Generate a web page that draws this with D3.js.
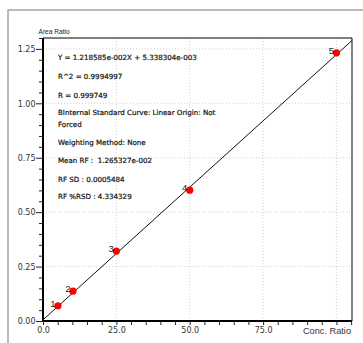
<!DOCTYPE html>
<html><head><meta charset="utf-8">
<script src="https://cdn.jsdelivr.net/npm/d3@7"></script>
<style>body{margin:0;background:#fff;}svg{display:block;}text{white-space:pre;}</style>
</head><body>
<svg id="c" width="363" height="343"></svg>
<script>
const levels = ["1","2","3","4","5"];
const concRatio = [5.1, 10.2, 25, 50, 100];
const areaRatio = [0.070, 0.137, 0.321, 0.601, 1.232];
const slope = 0.01218585, intercept = 0.005338304;
const xTickLabels = ["0.0","25.0","50.0","75.0"];
const yTickLabels = ["0.00","0.25","0.50","0.75","1.00","1.25"];
const notes = [
  "Y = 1.218585e-002X + 5.338304e-003",
  "R^2 = 0.9994997",
  "R = 0.999749",
  "BInternal Standard Curve: Linear Origin: Not",
  "Forced",
  "Weighting Method: None",
  "Mean RF :  1.265327e-002",
  "RF SD : 0.0005484",
  "RF %RSD : 4.334329"
];
const noteY = [60, 79, 98, 115, 127, 145, 163, 182, 199];

const svg = d3.select("#c");
const L=43, R=352, T=38, B=321;
const x = d3.scaleLinear().domain([0,105.3]).range([L,R]);
const y = d3.scaleLinear().domain([0,1.3]).range([B,T]);
const sans = "DejaVu Sans, Verdana, sans-serif";

// outer frame (top + left)
svg.append("path").attr("d","M8,343 V10 H363").attr("fill","none").attr("stroke","#aaa49a").attr("stroke-width",1.5);

// grid
const gx=[25,50,75,100], gy=[0.25,0.5,0.75,1.0,1.25];
svg.append("g").selectAll("line").data(gx).join("line")
  .attr("x1",d=>x(d)).attr("x2",d=>x(d)).attr("y1",T).attr("y2",B)
  .attr("stroke","#d0d0d0").attr("stroke-dasharray","1,2");
svg.append("g").selectAll("line").data(gy).join("line")
  .attr("y1",d=>y(d)).attr("y2",d=>y(d)).attr("x1",L).attr("x2",R)
  .attr("stroke","#d0d0d0").attr("stroke-dasharray","1,2");

// plot border top/right
svg.append("path").attr("d",`M${L},${T} H${R} V${B}`).attr("fill","none").attr("stroke","#000").attr("stroke-width",1);

// axes
const xAxis = d3.axisBottom(x).tickValues(d3.range(0,106,5)).tickSize(4)
  .tickFormat(d=> (d%25===0 && d<100) ? xTickLabels[d/25] : "");
const gX = svg.append("g").attr("transform",`translate(0,${B})`).call(xAxis);
gX.select(".domain").attr("stroke","#000").attr("stroke-width",2).attr("d",`M${L},0H${R}`);
gX.selectAll(".tick line").attr("stroke","#222");
gX.selectAll("text").attr("font-family",sans).attr("font-size",8).attr("fill","#333").attr("dy","0.6em");

const yAxis = d3.axisLeft(y).tickValues(d3.range(0,1.3001,0.05).map(v=>+v.toFixed(2))).tickSize(0)
  .tickFormat(d=>{const i=Math.round(d/0.25); return Math.abs(d-i*0.25)<1e-6 ? yTickLabels[i] : "";});
const gY = svg.append("g").attr("transform",`translate(${L},0)`).call(yAxis);
gY.select(".domain").attr("stroke","#000").attr("stroke-width",2).attr("d",`M0,${T}V${B}`);
gY.selectAll(".tick line").attr("stroke","#222")
  .attr("x2",d=>{const i=Math.round(d/0.25); return Math.abs(d-i*0.25)<1e-6 ? -7 : -4;});
gY.selectAll("text").attr("font-family",sans).attr("font-size",8).attr("fill","#333").attr("x",-7.5).attr("dy","0.35em");

// axis titles
svg.append("text").attr("x",38.5).attr("y",34).text("Area Ratio")
  .attr("font-family","Liberation Sans, Arial, sans-serif").attr("font-size",6.6).attr("fill","#222");
svg.append("text").attr("x",351).attr("y",334).attr("text-anchor","end").text("Conc. Ratio")
  .attr("font-family","Liberation Sans, Arial, sans-serif").attr("font-size",9.2).attr("fill","#333");

// fit line
const x0=0, x1=105.3;
svg.append("line").attr("x1",x(x0)).attr("y1",y(slope*x0+intercept)).attr("x2",x(x1)).attr("y2",y(slope*x1+intercept))
  .attr("stroke","#111").attr("stroke-width",1);

// points
const pts = concRatio.map((c,i)=>({c, a:areaRatio[i], l:levels[i]}));
svg.append("g").selectAll("circle").data(pts).join("circle")
  .attr("cx",d=>x(d.c)).attr("cy",d=>y(d.a)).attr("r",3.6).attr("fill","#ff0000");
svg.append("g").selectAll("text").data(pts).join("text")
  .attr("x",d=>x(d.c)-2.5).attr("y",d=>y(d.a)+1).attr("text-anchor","end").text(d=>d.l)
  .attr("font-family","Liberation Sans, Arial, sans-serif").attr("font-size",9.5).attr("fill","#222");

// annotation text
svg.append("g").selectAll("text").data(notes).join("text")
  .attr("x",58).attr("y",(d,i)=>noteY[i]).text(d=>d)
  .attr("font-family",sans).attr("font-size",7.1).attr("fill","#111")
  .attr("stroke","#111").attr("stroke-width",0.2);
</script>
</body></html>
